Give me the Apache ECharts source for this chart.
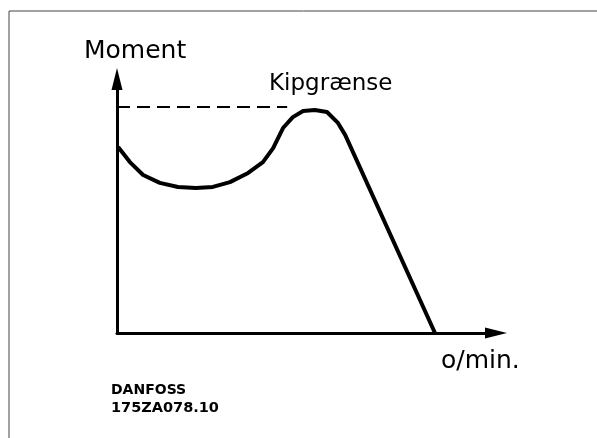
<!DOCTYPE html>
<html>
<head>
<meta charset="utf-8">
<script src="https://cdn.jsdelivr.net/npm/echarts@6/dist/echarts.min.js"></script>
<style>
  html, body { margin: 0; padding: 0; background: #fff; }
  #chart { width: 597px; height: 438px; }
</style>
</head>
<body>
<div id="chart"></div>
<script>
// speed (% of axis length) and torque (% of axis height)
const speed = [0.3, 3.4, 6.9, 11.3, 16.1, 20.8, 25.3, 29.8, 34.6, 38.5, 41.2, 43.8, 46.4, 49.1, 52.2, 55.4, 58.3, 60.2, 83.9];
const torque = [73.2, 67.3, 62.2, 59.1, 57.5, 57.1, 57.5, 59.4, 63.0, 67.3, 72.8, 80.7, 85.0, 87.4, 87.8, 87.0, 82.7, 78.0, 0];
// breakdown torque level (dashed)
const kipSpeed = [0, 44.9];
const kipTorque = [89, 89];

const labels = {
  y: 'Moment',
  x: 'o/min.',
  kip: 'Kipgrænse',
  maker: 'DANFOSS',
  code: '175ZA078.10'
};

const chart = echarts.init(document.getElementById('chart'));

const axisCommon = {
  type: 'value',
  min: 0,
  max: 100,
  axisLine: {
    show: true,
    symbol: ['none', 'triangle'],
    symbolSize: [11, 22],
    lineStyle: { color: '#000', width: 3 }
  },
  axisTick: { show: false },
  axisLabel: { show: false },
  splitLine: { show: false }
};

const font = '"DejaVu Sans"';

const option = {
  animation: false,
  backgroundColor: '#fff',
  grid: { left: 117, top: 79, right: 101, bottom: 105 },
  xAxis: Object.assign({}, axisCommon),
  yAxis: Object.assign({}, axisCommon),
  graphic: [
    {
      type: 'rect',
      shape: { x: 9, y: 11, width: 800, height: 600 },
      style: { fill: 'none', stroke: '#444', lineWidth: 1 },
      silent: true
    },
    {
      type: 'text', left: 84, top: 39,
      style: { text: labels.y, font: '25px ' + font, fill: '#000' }
    },
    {
      type: 'text', left: 269, top: 73,
      style: { text: labels.kip, font: '23px ' + font, fill: '#000' }
    },
    {
      type: 'text', left: 441, top: 349,
      style: { text: labels.x, font: '25px ' + font, fill: '#000' }
    },
    {
      type: 'text', left: 111, top: 383,
      style: { text: labels.maker, font: 'bold 14px ' + font, fill: '#000' }
    },
    {
      type: 'text', left: 111, top: 401,
      style: { text: labels.code, font: 'bold 14.5px ' + font, fill: '#000' }
    }
  ],
  series: [
    {
      type: 'line',
      data: kipSpeed.map((v, i) => [v, kipTorque[i]]),
      showSymbol: false,
      lineStyle: { color: '#000', width: 2, type: [13, 7] },
      z: 3
    },
    {
      type: 'line',
      data: speed.map((v, i) => [v, torque[i]]),
      showSymbol: false,
      lineStyle: { color: '#000', width: 4, join: 'round' },
      z: 4
    }
  ]
};

chart.setOption(option);
</script>
</body>
</html>
